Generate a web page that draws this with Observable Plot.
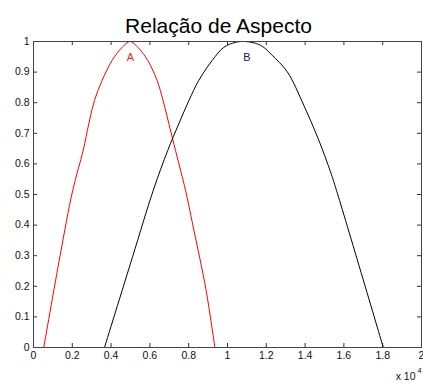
<!DOCTYPE html>
<html>
<head>
<meta charset="utf-8">
<script src="https://cdn.jsdelivr.net/npm/d3@7"></script>
<script src="https://cdn.jsdelivr.net/npm/@observablehq/plot@0.6"></script>
<style>
  html, body { margin: 0; padding: 0; background: #fff; }
  svg { display: block; }
</style>
</head>
<body>
<div id="chart"></div>
<script>
const titleText = "Relação de Aspecto";
const xTicks = [0, 2000, 4000, 6000, 8000, 10000, 12000, 14000, 16000, 18000, 20000];
const yTicks = [0, 0.1, 0.2, 0.3, 0.4, 0.5, 0.6, 0.7, 0.8, 0.9, 1];

const seriesAx = [530, 1370, 2020, 2560, 2850, 3140, 3540, 4050, 4570, 4980, 5380, 5890, 6370, 6680, 6980, 7320, 7600, 7840, 8200, 8560, 8900, 9350];
const seriesAy = [0, 0.3, 0.513, 0.644, 0.731, 0.807, 0.873, 0.938, 0.981, 1, 0.981, 0.938, 0.873, 0.807, 0.731, 0.644, 0.574, 0.513, 0.404, 0.295, 0.186, 0];

const seriesBx = [3660, 5100, 6170, 6920, 7490, 8010, 8520, 9210, 9810, 10400, 10900, 11400, 11800, 12300, 13080, 13930, 14670, 15310, 15620, 18030];
const seriesBy = [0, 0.295, 0.513, 0.644, 0.731, 0.807, 0.873, 0.938, 0.981, 0.997, 1, 0.995, 0.984, 0.955, 0.901, 0.792, 0.683, 0.574, 0.513, 0];

const labels = [
  {name: "A", x: 5000, y: 1, color: "#ff2020"},
  {name: "B", x: 11000, y: 1, color: "#202050"}
];

const dataA = seriesAx.map((x, i) => ({x, y: seriesAy[i]}));
const dataB = seriesBx.map((x, i) => ({x, y: seriesBy[i]}));

const W = 423, H = 388;
const mL = 33, mR = 2, mT = 41, mB = 41;
const innerH = H - mT - mB;
const innerW = W - mL - mR;
const tickLen = 4;
const font = "Liberation Sans, Arial, sans-serif";

const fmtX = d => {
  const v = d / 10000;
  return v === 0 ? "0" : String(+v.toFixed(1));
};
const fmtY = d => d === 0 ? "0" : String(+d.toFixed(1));

const chart = Plot.plot({
  width: W,
  height: H,
  marginLeft: mL,
  marginRight: mR,
  marginTop: mT,
  marginBottom: mB,
  style: {fontFamily: font, fontSize: "10.5px", color: "#111", background: "#fff", overflow: "visible"},
  x: {domain: [0, 20000], ticks: xTicks, tickFormat: fmtX},
  y: {domain: [0, 1], ticks: yTicks, tickFormat: fmtY},
  marks: [
    Plot.axisX({ticks: xTicks, tickFormat: fmtX, tickSize: 0, tickPadding: 4, label: null, fontSize: 10.5}),
    Plot.axisY({ticks: yTicks, tickFormat: fmtY, tickSize: 0, tickPadding: 4, label: null, fontSize: 10.5}),
    Plot.tickX(xTicks, {x: d => d, insetTop: innerH - tickLen, stroke: "#333"}),
    Plot.tickX(xTicks, {x: d => d, insetBottom: innerH - tickLen, stroke: "#333"}),
    Plot.tickY(yTicks, {y: d => d, insetRight: innerW - tickLen, stroke: "#333"}),
    Plot.tickY(yTicks, {y: d => d, insetLeft: innerW - tickLen, stroke: "#333"}),
    Plot.line(dataA, {x: "x", y: "y", stroke: "#ff0000", strokeWidth: 1, curve: "catmull-rom"}),
    Plot.line(dataB, {x: "x", y: "y", stroke: "#000000", strokeWidth: 1, curve: "catmull-rom"}),
    Plot.text(labels, {x: "x", y: "y", text: "name", fill: "color", dy: 16, fontSize: 11}),
    Plot.frame({stroke: "#444"}),
    Plot.text([titleText], {frameAnchor: "top", text: d => d, dy: -23, dx: -9, fontSize: 21, fill: "#000"}),
    Plot.text(["x 10"], {frameAnchor: "bottom-right", text: d => d, textAnchor: "end", dx: -6, dy: 32, fontSize: 10.5, fill: "#111"}),
    Plot.text(["4"], {frameAnchor: "bottom-right", text: d => d, textAnchor: "start", dx: -4, dy: 25, fontSize: 7.5, fill: "#111"})
  ]
});

document.getElementById("chart").appendChild(chart);
</script>
</body>
</html>
